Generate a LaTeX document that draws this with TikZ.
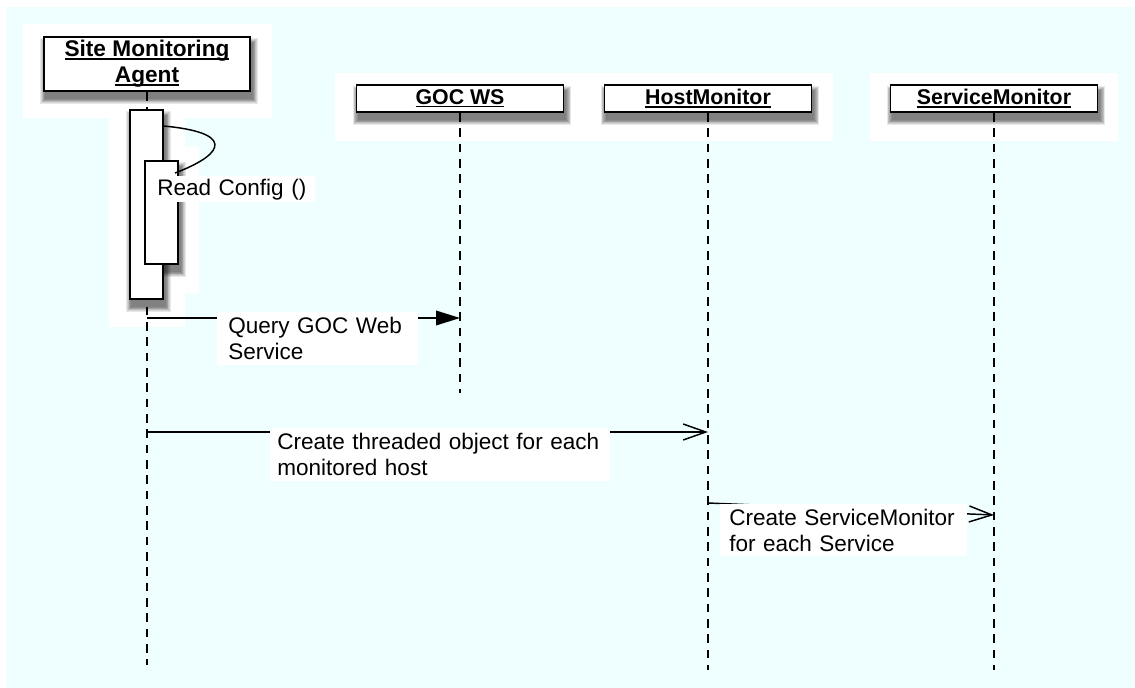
\documentclass[tikz,border=0pt]{standalone}
\usepackage{fontspec}
\setmainfont{Liberation Sans}
\usetikzlibrary{arrows.meta,calc}
\pgfdeclarelayer{bg}
\pgfsetlayers{bg,main}
\definecolor{cyanbg}{RGB}{239,255,255}
\newcommand\undl[1]{\setbox0=\hbox{#1}\rlap{\vrule height -1pt depth 2.1pt width \wd0}\box0}
\newcommand\softshadow[1]{%
  \foreach \i in {0,...,6}{%
    \fill[black,opacity=0.09] ($(#1.north west)+(2-\i*0.8,7-\i*0.8)$) rectangle ($(#1.south east)+(2+\i*0.8,7+\i*0.8)$);}}
\begin{document}
\begin{tikzpicture}[x=0.75pt,y=-0.75pt,
  hdr/.style={draw, line width=1.4pt, fill=white, minimum width=155.25pt, minimum height=20.25pt, inner sep=0pt, font=\fontsize{16}{19}\selectfont\bfseries},
  bar/.style={draw, line width=1.4pt, fill=white, inner sep=0pt, minimum width=24.75pt},
  msglabel/.style={fill=white, anchor=north west, align=left, inner ysep=0pt, font=\fontsize{16.9}{19.3}\selectfont},
  lifeline/.style={dash pattern=on 6.5pt off 5pt, line width=1.3pt},
  msg/.style={line width=1.1pt},
  filledhead/.style={-{Triangle[length=18pt,width=11pt]}},
  openhead/.style={-{Straight Barb[length=17pt,width=12pt,line width=1.1pt]}}
]
\useasboundingbox (0,0) rectangle (1135,688);

% participants
\node[hdr, minimum width=154.5pt, minimum height=40.5pt, align=center, font=\fontsize{17}{19.5}\selectfont\bfseries] (agent) at (147,64) {\undl{Site Monitoring}\\\undl{Agent}};
\node[hdr] (goc) at (460,98.5) {\undl{GOC WS}};
\node[hdr] (host) at (708,98.5) {\undl{HostMonitor}};
\node[hdr] (svc) at (994,98.5) {\undl{ServiceMonitor}};

% lifelines
\coordinate (agentEnd) at (147,665);
\coordinate (gocEnd) at (460,393);
\coordinate (hostEnd) at (708,670);
\coordinate (svcEnd) at (994,670);
\draw[lifeline] (agent.south) -- (agentEnd);
\draw[lifeline] (goc.south) -- (gocEnd);
\draw[lifeline] (host.south) -- (hostEnd);
\draw[lifeline] (svc.south) -- (svcEnd);

% activation bars
\node[bar, minimum height=141.75pt] (act) at (146.5,204.5) {};
\node[bar, minimum height=77.25pt] (act2) at (161.5,212.5) {};

% self call
\draw[msg] ($(act.north east)+(0,17)$) .. controls (230,132) and (230,152) .. ($(act2.north east)+(-4,13)$);
\node[msglabel, inner xsep=3pt, text width=115.5pt, minimum height=19.5pt] (rc) at (153,176) {Read Config ()};

% messages
\coordinate (q1) at (147,318);
\coordinate (q2) at (460,318);
\draw[msg, filledhead] (q1) -- (q2);
\node[msglabel, inner xsep=8.25pt, text width=134.25pt, minimum height=39.75pt] (ql) at (217,312) {Query GOC Web\\Service};

\coordinate (t1) at (147,432);
\coordinate (t2) at (708,432);
\draw[msg, openhead] (t1) -- (t2);
\node[msglabel, inner xsep=5.25pt, text width=244.5pt, minimum height=39.75pt] (tl) at (270,428) {Create threaded object for each\\monitored host};

\coordinate (s1) at (708,503);
\coordinate (s2) at (994,515);
\draw[msg, openhead] (s1) -- (s2);
\node[msglabel, inner xsep=6.75pt, text width=171.75pt, minimum height=39pt] (sl) at (720,504) {Create ServiceMonitor\\for each Service};

% background
\begin{pgfonlayer}{bg}
\fill[cyanbg] (6,7) rectangle (1135,688);
\fill[white] (23,24) rectangle (272,118);
\fill[white] (109,118) rectangle (185,327);
\fill[white] (185,147) rectangle (199,293);
\fill[white] (335,73) rectangle (833,141);
\fill[white] (870,73) rectangle (1118,141);
\softshadow{agent}
\softshadow{goc}
\softshadow{host}
\softshadow{svc}
\softshadow{act}
\softshadow{act2}
\end{pgfonlayer}
\end{tikzpicture}
\end{document}
